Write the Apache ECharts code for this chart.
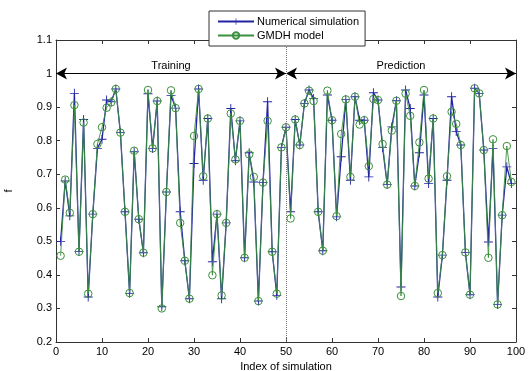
<!DOCTYPE html>
<html>
<head>
<meta charset="utf-8">
<script src="https://cdn.jsdelivr.net/npm/echarts@6/dist/echarts.min.js"></script>
<style>html,body{margin:0;padding:0;background:#fff;}#c{width:529px;height:371px;}</style>
</head>
<body>
<div id="c"></div>
<script>
var numerical = [0.50,0.68,0.576,0.941,0.47,0.863,0.334,0.581,0.777,0.804,
0.921,0.916,0.954,0.824,0.588,0.345,0.767,0.566,0.466,0.94,
0.777,0.918,0.305,0.647,0.935,0.897,0.588,0.442,0.329,0.732,
0.954,0.682,0.866,0.439,0.581,0.329,0.555,0.896,0.74,0.859,
0.451,0.764,0.677,0.322,0.675,0.916,0.469,0.339,0.78,0.84,
0.588,0.863,0.787,0.911,0.951,0.926,0.588,0.472,0.936,0.861,
0.573,0.752,0.923,0.682,0.931,0.861,0.861,0.692,0.943,0.921,
0.78,0.669,0.841,0.919,0.364,0.951,0.896,0.665,0.764,0.936,
0.672,0.866,0.334,0.459,0.682,0.931,0.827,0.787,0.467,0.341,
0.956,0.941,0.772,0.498,0.777,0.312,0.578,0.722,0.672];
var gmdh = [0.457,0.684,0.585,0.906,0.469,0.854,0.344,0.581,0.79,0.84,
0.898,0.914,0.954,0.824,0.588,0.346,0.77,0.566,0.466,0.951,
0.777,0.918,0.30,0.647,0.95,0.897,0.555,0.442,0.329,0.814,
0.954,0.694,0.866,0.399,0.581,0.339,0.555,0.881,0.744,0.859,
0.451,0.759,0.692,0.322,0.675,0.859,0.469,0.344,0.78,0.84,
0.568,0.863,0.787,0.911,0.949,0.918,0.588,0.472,0.949,0.861,
0.575,0.82,0.923,0.692,0.931,0.848,0.861,0.724,0.924,0.921,
0.79,0.669,0.83,0.919,0.337,0.94,0.874,0.665,0.795,0.951,
0.687,0.866,0.346,0.459,0.694,0.886,0.85,0.787,0.467,0.341,
0.956,0.941,0.772,0.451,0.804,0.312,0.578,0.784,0.677];
var seriesNames = ['Numerical simulation', 'GMDH model'];
var phaseLabels = ['Training', 'Prediction'];
var phaseBounds = [0, 50, 100];
var arrowLevel = 1.0;

function pairs(arr){ return arr.map(function(v,i){ return [i+1, v]; }); }

var FONT = 'Liberation Sans';
var BLUE = '#2323a6';
var GREEN = '#3c913c';
var plus = 'path://M-0.5,-5L0.5,-5L0.5,-0.5L5,-0.5L5,0.5L0.5,0.5L0.5,5L-0.5,5L-0.5,0.5L-5,0.5L-5,-0.5L-0.5,-0.5Z';

var chart = echarts.init(document.getElementById('c'), null, {renderer:'canvas'});
var tickStyle = {show:true, inside:true, length:4, lineStyle:{color:'#333'}};
var axisLine = {show:true, onZero:false, lineStyle:{color:'#333', width:1}};
var option = {
  animation:false,
  backgroundColor:'#fff',
  textStyle:{fontFamily:FONT},
  grid:{left:56, right:13, top:40, bottom:29, containLabel:false, outerBoundsMode:'none'},
  legend:{
    orient:'vertical', left:209, top:11,
    backgroundColor:'#fff', borderColor:'#333', borderWidth:1,
    padding:[5,6,5,8], itemGap:3, itemWidth:36, itemHeight:8,
    textStyle:{fontFamily:FONT, fontSize:11, color:'#000', padding:[0,0,0,-2]},
    z:20,
    data:seriesNames
  },
  xAxis:[{
    type:'value', min:0, max:100, interval:10,
    name:'Index of simulation', nameLocation:'middle', nameGap:16,
    nameTextStyle:{fontFamily:FONT, fontSize:11, color:'#000'},
    axisLine:axisLine, axisTick:tickStyle, splitLine:{show:false},
    axisLabel:{fontFamily:FONT, fontSize:11, color:'#000', margin:4}
  },{
    type:'value', min:0, max:100, interval:10, position:'top',
    axisLine:axisLine, axisTick:tickStyle, splitLine:{show:false},
    axisLabel:{show:false}
  }],
  yAxis:[{
    type:'value', min:0.2, max:1.1, interval:0.1,
    name:'f', nameLocation:'middle', nameGap:42,
    nameTextStyle:{fontFamily:FONT, fontSize:11, color:'#000'},
    axisLine:axisLine, axisTick:tickStyle, splitLine:{show:false},
    axisLabel:{fontFamily:FONT, fontSize:11, color:'#000', margin:4,
      formatter:function(v){ return String(+v.toFixed(1)); }}
  },{
    type:'value', min:0.2, max:1.1, interval:0.1, position:'right',
    axisLine:axisLine, axisTick:tickStyle, splitLine:{show:false},
    axisLabel:{show:false}
  }],
  series:[{
    name:seriesNames[0], type:'line', data:pairs(numerical),
    symbol:plus, symbolSize:9, showAllSymbol:true,
    lineStyle:{color:BLUE, width:1.3},
    itemStyle:{color:BLUE},
    z:2,
    markLine:{
      silent:true, animation:false,
      symbol:['arrow','arrow'], symbolSize:[9,11],
      lineStyle:{color:'#000', type:'solid', width:1},
      label:{show:true, position:'middle', fontFamily:FONT, fontSize:11, color:'#000', distance:2},
      data:[
        [{coord:[phaseBounds[0], arrowLevel], name:phaseLabels[0]}, {coord:[phaseBounds[1], arrowLevel]}],
        [{coord:[phaseBounds[1], arrowLevel], name:phaseLabels[1]}, {coord:[phaseBounds[2], arrowLevel]}]
      ]
    }
  },{
    name:seriesNames[1], type:'line', data:pairs(gmdh),
    symbol:'circle', symbolSize:7.5, showAllSymbol:true,
    lineStyle:{color:GREEN, width:0.9},
    itemStyle:{color:'rgba(0,0,0,0)', borderColor:GREEN, borderWidth:1},
    z:3,
    markLine:{
      silent:true, animation:false, symbol:['none','none'],
      lineStyle:{color:'#777', type:'dotted', width:1},
      label:{show:false},
      data:[{xAxis:phaseBounds[1]}]
    }
  }]
};
chart.setOption(option);
</script>
</body>
</html>
